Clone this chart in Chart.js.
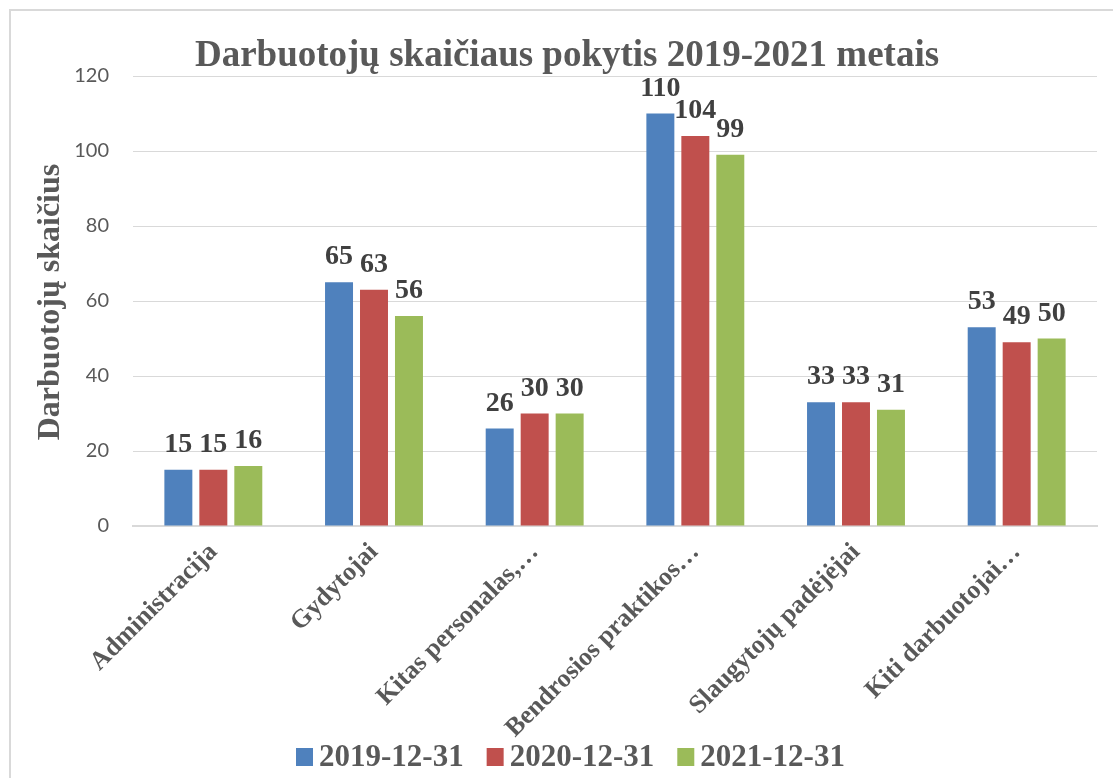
<!DOCTYPE html>
<html>
<head>
<meta charset="utf-8">
<script src="https://cdn.jsdelivr.net/npm/chart.js@4.4.1/dist/chart.umd.min.js"></script>
<style>
  html, body { margin: 0; padding: 0; background: #ffffff; }
  #wrap { width: 1113px; height: 778px; position: relative; }
</style>
</head>
<body>
<div id="wrap"><canvas id="c" width="1113" height="778"></canvas></div>
<script>
const categories = ['Administracija', 'Gydytojai', 'Kitas personalas,…', 'Bendrosios praktikos…', 'Slaugytojų padėjėjai', 'Kiti darbuotojai…'];
const seriesNames = ['2019-12-31', '2020-12-31', '2021-12-31'];
const values2019 = [15, 65, 26, 110, 33, 53];
const values2020 = [15, 63, 30, 104, 33, 49];
const values2021 = [16, 56, 30, 99, 31, 50];
const yTickValues = [0, 20, 40, 60, 80, 100, 120];
const chartTitle = 'Darbuotojų skaičiaus pokytis 2019-2021 metais';
const yAxisTitle = 'Darbuotojų skaičius';

const colors = ['#4F81BD', '#C0504D', '#9BBB59'];
const SERIF = '"Liberation Serif", "Times New Roman", serif';
const textGrey = '#595959';

const decorPlugin = {
  id: 'decor',
  afterDraw(chart) {
    const ctx = chart.ctx;
    ctx.save();
    // outer border
    ctx.strokeStyle = '#d9d9d9';
    ctx.lineWidth = 2;
    ctx.beginPath();
    ctx.moveTo(10, 790);
    ctx.lineTo(10, 10);
    ctx.lineTo(1120, 10);
    ctx.stroke();

    // title
    ctx.fillStyle = textGrey;
    ctx.font = 'bold 37px ' + SERIF;
    ctx.textAlign = 'center';
    ctx.textBaseline = 'alphabetic';
    ctx.fillText(chartTitle, 567, 66);

    // y axis title
    ctx.save();
    ctx.translate(51, 302);
    ctx.rotate(-Math.PI / 2);
    ctx.font = 'bold 32px ' + SERIF;
    ctx.textAlign = 'center';
    ctx.textBaseline = 'middle';
    ctx.fillText(yAxisTitle, 0, 0);
    ctx.restore();

    // data labels
    ctx.fillStyle = '#404040';
    ctx.font = 'bold 28px ' + SERIF;
    ctx.textAlign = 'center';
    ctx.textBaseline = 'alphabetic';
    chart.data.datasets.forEach((ds, i) => {
      const meta = chart.getDatasetMeta(i);
      meta.data.forEach((bar, j) => {
        ctx.fillText(String(ds.data[j]), bar.x, bar.y - 18);
      });
    });

    // legend
    ctx.font = 'bold 31px ' + SERIF;
    ctx.textAlign = 'left';
    ctx.textBaseline = 'middle';
    let x = 296;
    const cy = 757;
    chart.data.datasets.forEach((ds) => {
      ctx.fillStyle = ds.backgroundColor;
      ctx.fillRect(x, cy - 9, 17, 18);
      x += 17 + 6;
      ctx.fillStyle = textGrey;
      ctx.fillText(ds.label, x, cy + 1);
      x += ctx.measureText(ds.label).width + 23;
    });
    ctx.restore();
  }
};

new Chart(document.getElementById('c'), {
  type: 'bar',
  data: {
    labels: categories,
    datasets: [
      { label: seriesNames[0], data: values2019, backgroundColor: colors[0] },
      { label: seriesNames[1], data: values2020, backgroundColor: colors[1] },
      { label: seriesNames[2], data: values2021, backgroundColor: colors[2] }
    ]
  },
  options: {
    responsive: false,
    animation: false,
    devicePixelRatio: 1,
    layout: { padding: { top: 76, right: 16, left: 0, bottom: 0 } },
    datasets: { bar: { barPercentage: 0.8, categoryPercentage: 0.653 } },
    plugins: {
      legend: { display: false },
      title: { display: false },
      tooltip: { enabled: false }
    },
    scales: {
      x: {
        grid: { display: false, drawTicks: false },
        border: { display: true, color: '#d9d9d9', width: 2 },
        ticks: {
          autoSkip: false,
          minRotation: 45,
          maxRotation: 45,
          padding: 11,
          color: textGrey,
          font: { family: SERIF, size: 26, weight: 'bold' }
        },
        afterFit(s) { s.height = 252; }
      },
      y: {
        min: 0,
        max: 120,
        grid: { color: '#d9d9d9', lineWidth: 1, drawTicks: false },
        border: { display: false },
        afterBuildTicks(s) { s.ticks = yTickValues.map(v => ({ value: v })); },
        ticks: {
          padding: 24,
          color: textGrey,
          font: { family: 'Lato, "Open Sans", sans-serif', size: 20 }
        },
        afterFit(s) { s.width = 133; }
      }
    }
  },
  plugins: [decorPlugin]
});
</script>
</body>
</html>
